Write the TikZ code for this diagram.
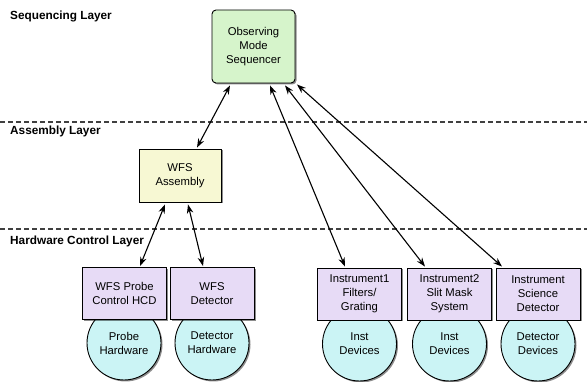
\documentclass[tikz,border=0pt]{standalone}
\usepackage{fontspec}
\setmainfont{Liberation Sans}
\usetikzlibrary{arrows.meta,shadows,calc}
\definecolor{seqfill}{HTML}{D6F4CB}
\definecolor{asmfill}{HTML}{F7F8D3}
\definecolor{hcdfill}{HTML}{E7DBF6}
\definecolor{hwfill}{HTML}{CBF4F5}
\tikzset{
  box/.style={draw=black, line width=0.9pt, align=center, font=\fontsize{11.3}{14}\selectfont,
    inner sep=0pt, drop shadow={shadow xshift=1.5pt, shadow yshift=-1.5pt, fill=black, opacity=0.45}},
  seqbox/.style={box, fill=seqfill, rounded corners=4pt, minimum width=83pt, minimum height=73pt},
  asmbox/.style={box, fill=asmfill, minimum width=82pt, minimum height=53pt},
  hcdbox/.style={box, fill=hcdfill, minimum width=84pt, minimum height=52pt},
  hwcircle/.style={box, circle, fill=hwfill, minimum size=74pt},
  layerlabel/.style={anchor=west, font=\bfseries\fontsize{11.8}{14}\selectfont, inner sep=0pt},
  layerline/.style={dashed, dash pattern=on 5pt off 3pt, line width=1.3pt, draw=black!75},
  link/.style={{Stealth[length=9pt,width=6.5pt]}-{Stealth[length=9pt,width=6.5pt]}, line width=1.1pt}
}
\begin{document}
\begin{tikzpicture}[x=1pt,y=-1pt]
\useasboundingbox (0,0) rectangle (587,382);

% layer boundaries and titles
\draw[layerline] (0,122) -- (587,122);
\draw[layerline] (0,229) -- (587,229);
\node[layerlabel] (lseq) at (10,16) {Sequencing Layer};
\node[layerlabel] (lasm) at (10,131) {Assembly Layer};
\node[layerlabel] (lhcd) at (10,241) {Hardware Control Layer};

% hardware circles sit behind the HCD boxes
\node[hwcircle] (hw1) at (124,343) {Probe\\Hardware};
\node[hwcircle] (hw2) at (212,343) {Detector\\Hardware};
\node[hwcircle] (hw3) at (359.5,344) {Inst\\Devices};
\node[hwcircle] (hw4) at (449.5,344) {Inst\\Devices};
\node[hwcircle] (hw5) at (538,344) {Detector\\Devices};

% component boxes
\node[seqbox] (seq) at (253.5,46.5) {Observing\\Mode\\Sequencer};
\node[asmbox] (asm) at (180,175.5) {WFS\\Assembly};
\node[hcdbox] (hcd1) at (124.5,293.5) {WFS Probe\\Control HCD};
\node[hcdbox] (hcd2) at (212,293.5) {WFS\\Detector};
\node[hcdbox] (hcd3) at (359.5,294) {Instrument1\\Filters/\\Grating};
\node[hcdbox] (hcd4) at (449.5,294) {Instrument2\\Slit Mask\\System};
\node[hcdbox] (hcd5) at (538,294) {Instrument\\Science\\Detector};

% command links
\draw[link] ($(seq.south)+(-23.5,2)$) -- ($(asm.north)+(17,-1)$);
\draw[link] ($(seq.south)+(16.5,2)$) -- ($(hcd3.north)+(-14.5,-1)$);
\draw[link] ($(seq.south)+(31.5,2)$) -- ($(hcd4.north)+(-24.5,-1)$);
\draw[link] ($(seq.south east)+(1.5,1)$) -- ($(hcd5.north)+(-36,-1)$);
\draw[link] ($(asm.south)+(-15,2)$) -- ($(hcd1.north)+(15.5,-1)$);
\draw[link] ($(asm.south)+(8,2)$) -- ($(hcd2.north)+(-9,-1)$);
\end{tikzpicture}
\end{document}
